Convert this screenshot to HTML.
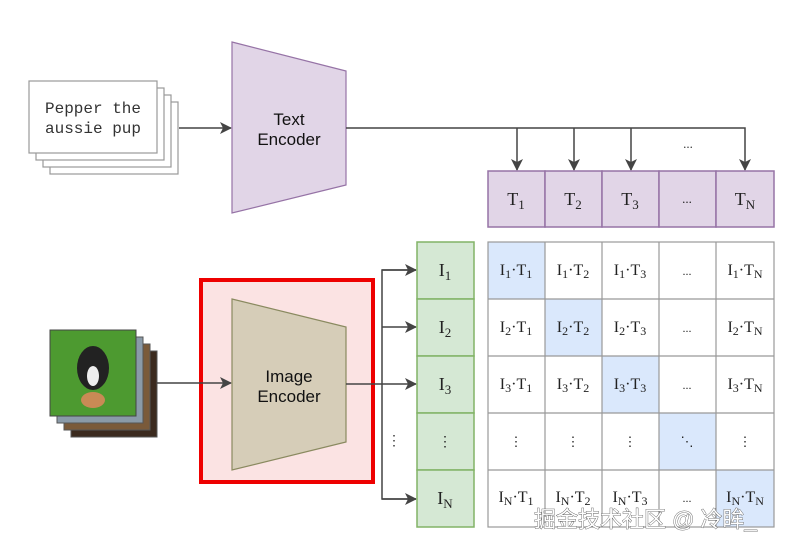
<!DOCTYPE html>
<html><head><meta charset="utf-8"><style>
body{margin:0;background:#fff;width:800px;height:550px;overflow:hidden}
svg text{font-family:"Liberation Serif",serif}
</style></head><body>
<svg width="800" height="550" xmlns="http://www.w3.org/2000/svg">
<defs><marker id="a" markerWidth="12" markerHeight="12" refX="11" refY="6" orient="auto" markerUnits="userSpaceOnUse"><path d="M0,0 L12,6 L0,12 L3,6 z" fill="#444"/></marker></defs>
<g fill="#fff" stroke="#999" stroke-width="1.2">
<rect x="50" y="102" width="128" height="72"/>
<rect x="43" y="95" width="128" height="72"/>
<rect x="36" y="88" width="128" height="72"/>
<rect x="29" y="81" width="128" height="72"/>
</g>
<text x="93" y="113" style="font-family:'Liberation Mono',monospace" font-size="16" text-anchor="middle" fill="#333">Pepper the</text>
<text x="93" y="133" style="font-family:'Liberation Mono',monospace" font-size="16" text-anchor="middle" fill="#333">aussie pup</text>
<line x1="179" y1="128" x2="231" y2="128" stroke="#444" stroke-width="1.5" marker-end="url(#a)"/>
<polygon points="232,42 346,71 346,185 232,213" fill="#e1d5e7" stroke="#9673a6" stroke-width="1.2"/>
<text x="289" y="125" style="font-family:'Liberation Sans',sans-serif" font-size="17" text-anchor="middle" fill="#111">Text</text>
<text x="289" y="145" style="font-family:'Liberation Sans',sans-serif" font-size="17" text-anchor="middle" fill="#111">Encoder</text>
<polyline points="346,128 745,128 745,170" fill="none" stroke="#444" stroke-width="1.5" marker-end="url(#a)"/>
<line x1="517" y1="128" x2="517" y2="170" stroke="#444" stroke-width="1.5" marker-end="url(#a)"/>
<line x1="574" y1="128" x2="574" y2="170" stroke="#444" stroke-width="1.5" marker-end="url(#a)"/>
<line x1="631" y1="128" x2="631" y2="170" stroke="#444" stroke-width="1.5" marker-end="url(#a)"/>
<text x="688" y="148" font-size="13" text-anchor="middle" fill="#333">...</text>
<g fill="#e1d5e7" stroke="#9673a6" stroke-width="1.5">
<rect x="488" y="171" width="57" height="56"/><rect x="545" y="171" width="57" height="56"/><rect x="602" y="171" width="57" height="56"/><rect x="659" y="171" width="57" height="56"/><rect x="716" y="171" width="58" height="56"/>
</g>
<g font-size="18" fill="#222" text-anchor="middle">
<text x="516" y="205">T<tspan font-size="13" dy="4">1</tspan></text>
<text x="573" y="205">T<tspan font-size="13" dy="4">2</tspan></text>
<text x="630" y="205">T<tspan font-size="13" dy="4">3</tspan></text>
<text x="687" y="203" font-size="13">...</text>
<text x="745" y="205">T<tspan font-size="13" dy="4">N</tspan></text>
</g>
<rect x="71" y="351" width="86" height="86" fill="#3b2a1e" stroke="#555"/>
<rect x="64" y="344" width="86" height="86" fill="#7a5a3a" stroke="#555"/>
<rect x="57" y="337" width="86" height="86" fill="#8a9aa8" stroke="#555"/>
<rect x="50" y="330" width="86" height="86" fill="#4d9a30" stroke="#444"/>
<ellipse cx="93" cy="368" rx="16" ry="22" fill="#222"/>
<ellipse cx="93" cy="376" rx="6" ry="10" fill="#eee"/>
<ellipse cx="93" cy="400" rx="12" ry="8" fill="#c98a55"/>
<rect x="201" y="280" width="172" height="202" fill="#fbe3e3" stroke="#e00" stroke-width="4"/>
<line x1="157" y1="383" x2="231" y2="383" stroke="#444" stroke-width="1.5" marker-end="url(#a)"/>
<polygon points="232,299 346,327 346,442 232,470" fill="#d6cdb8" stroke="#8a8a60" stroke-width="1.2"/>
<text x="289" y="382" style="font-family:'Liberation Sans',sans-serif" font-size="17" text-anchor="middle" fill="#111">Image</text>
<text x="289" y="402" style="font-family:'Liberation Sans',sans-serif" font-size="17" text-anchor="middle" fill="#111">Encoder</text>
<line x1="346" y1="384" x2="416" y2="384" stroke="#444" stroke-width="1.5" marker-end="url(#a)"/>
<polyline points="416,270 382,270 382,499 416,499" fill="none" stroke="#444" stroke-width="1.5"/>
<line x1="382" y1="270" x2="416" y2="270" stroke="#444" stroke-width="1.5" marker-end="url(#a)"/>
<line x1="382" y1="327" x2="416" y2="327" stroke="#444" stroke-width="1.5" marker-end="url(#a)"/>
<line x1="382" y1="499" x2="416" y2="499" stroke="#444" stroke-width="1.5" marker-end="url(#a)"/>
<text x="394" y="445" font-size="14" text-anchor="middle" fill="#333">⋮</text>
<g fill="#d5e8d4" stroke="#82b366" stroke-width="1.5">
<rect x="417" y="242" width="57" height="57"/><rect x="417" y="299" width="57" height="57"/><rect x="417" y="356" width="57" height="57"/><rect x="417" y="413" width="57" height="57"/><rect x="417" y="470" width="57" height="57"/>
</g>
<g font-size="18" fill="#222" text-anchor="middle">
<text x="445" y="276">I<tspan font-size="13" dy="4">1</tspan></text>
<text x="445" y="333">I<tspan font-size="13" dy="4">2</tspan></text>
<text x="445" y="390">I<tspan font-size="13" dy="4">3</tspan></text>
<text x="445" y="446" font-size="14">⋮</text>
<text x="445" y="504">I<tspan font-size="13" dy="4">N</tspan></text>
</g>
<rect x="488" y="242" width="286" height="285" fill="#fff"/>
<g fill="#dae8fc">
<rect x="488" y="242" width="57" height="57"/><rect x="545" y="299" width="57" height="57"/><rect x="602" y="356" width="57" height="57"/><rect x="659" y="413" width="57" height="57"/><rect x="716" y="470" width="58" height="57"/>
</g>
<g stroke="#999" stroke-width="1.2">
<line x1="545" y1="242" x2="545" y2="527"/><line x1="602" y1="242" x2="602" y2="527"/><line x1="659" y1="242" x2="659" y2="527"/><line x1="716" y1="242" x2="716" y2="527"/>
<line x1="488" y1="299" x2="774" y2="299"/><line x1="488" y1="356" x2="774" y2="356"/><line x1="488" y1="413" x2="774" y2="413"/><line x1="488" y1="470" x2="774" y2="470"/>
<rect x="488" y="242" width="286" height="285" fill="none"/>
</g>
<g font-size="16" fill="#222" text-anchor="middle">
<text x="516" y="275">I<tspan font-size="12" dy="3">1</tspan><tspan dy="-3">·T</tspan><tspan font-size="12" dy="3">1</tspan></text>
<text x="573" y="275">I<tspan font-size="12" dy="3">1</tspan><tspan dy="-3">·T</tspan><tspan font-size="12" dy="3">2</tspan></text>
<text x="630" y="275">I<tspan font-size="12" dy="3">1</tspan><tspan dy="-3">·T</tspan><tspan font-size="12" dy="3">3</tspan></text>
<text x="687" y="275" font-size="12">...</text>
<text x="745" y="275">I<tspan font-size="12" dy="3">1</tspan><tspan dy="-3">·T</tspan><tspan font-size="12" dy="3">N</tspan></text>
<text x="516" y="332">I<tspan font-size="12" dy="3">2</tspan><tspan dy="-3">·T</tspan><tspan font-size="12" dy="3">1</tspan></text>
<text x="573" y="332">I<tspan font-size="12" dy="3">2</tspan><tspan dy="-3">·T</tspan><tspan font-size="12" dy="3">2</tspan></text>
<text x="630" y="332">I<tspan font-size="12" dy="3">2</tspan><tspan dy="-3">·T</tspan><tspan font-size="12" dy="3">3</tspan></text>
<text x="687" y="332" font-size="12">...</text>
<text x="745" y="332">I<tspan font-size="12" dy="3">2</tspan><tspan dy="-3">·T</tspan><tspan font-size="12" dy="3">N</tspan></text>
<text x="516" y="389">I<tspan font-size="12" dy="3">3</tspan><tspan dy="-3">·T</tspan><tspan font-size="12" dy="3">1</tspan></text>
<text x="573" y="389">I<tspan font-size="12" dy="3">3</tspan><tspan dy="-3">·T</tspan><tspan font-size="12" dy="3">2</tspan></text>
<text x="630" y="389">I<tspan font-size="12" dy="3">3</tspan><tspan dy="-3">·T</tspan><tspan font-size="12" dy="3">3</tspan></text>
<text x="687" y="389" font-size="12">...</text>
<text x="745" y="389">I<tspan font-size="12" dy="3">3</tspan><tspan dy="-3">·T</tspan><tspan font-size="12" dy="3">N</tspan></text>
<text x="516" y="446" font-size="13">⋮</text><text x="573" y="446" font-size="13">⋮</text><text x="630" y="446" font-size="13">⋮</text><text x="687" y="446" font-size="13">⋱</text><text x="745" y="446" font-size="13">⋮</text>
<text x="516" y="502">I<tspan font-size="12" dy="3">N</tspan><tspan dy="-3">·T</tspan><tspan font-size="12" dy="3">1</tspan></text>
<text x="573" y="502">I<tspan font-size="12" dy="3">N</tspan><tspan dy="-3">·T</tspan><tspan font-size="12" dy="3">2</tspan></text>
<text x="630" y="502">I<tspan font-size="12" dy="3">N</tspan><tspan dy="-3">·T</tspan><tspan font-size="12" dy="3">3</tspan></text>
<text x="687" y="502" font-size="12">...</text>
<text x="745" y="502">I<tspan font-size="12" dy="3">N</tspan><tspan dy="-3">·T</tspan><tspan font-size="12" dy="3">N</tspan></text>
</g>
<text x="534" y="527" style="font-family:'Liberation Sans','Noto Sans CJK SC',sans-serif" font-size="22" fill="#fff" stroke="#555" stroke-width="0.8" paint-order="stroke">掘金技术社区 @ 冷眸_</text>
</svg>
</body></html>
